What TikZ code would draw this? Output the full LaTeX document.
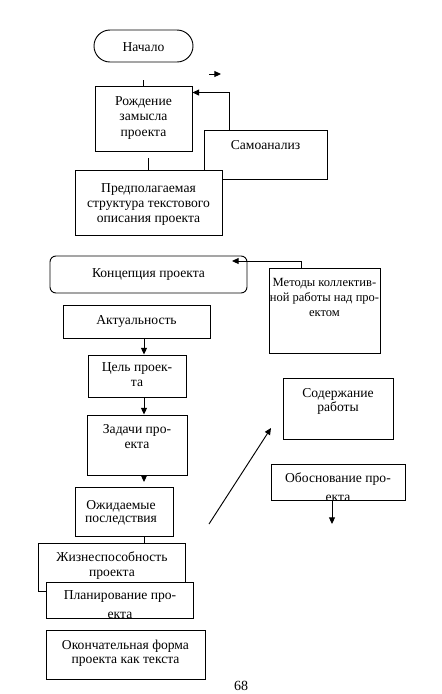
\documentclass[tikz,border=0pt]{standalone}
\usepackage{fontspec}
\setmainfont{Liberation Serif}
\usetikzlibrary{arrows.meta,fit,calc}
\begin{document}
\begin{tikzpicture}[x=0.75pt,y=-0.75pt,
  box/.style={draw, line width=0.7pt, inner sep=0pt, fill=white},
  txt/.style={font=\fontsize{10.2}{11.4}\selectfont, align=center, inner sep=0pt, anchor=north},
  cuttxt/.style={txt, font=\fontsize{10.2}{14.6}\selectfont},
  conn/.style={line width=0.7pt},
  arr/.style={line width=0.7pt, -{Triangle[length=5pt,width=4.5pt]}}]
\useasboundingbox (0,0) rectangle (442,694);

% Start
\node[box, rounded corners=12pt, fit={(94,30) (193,62)}] (start) {};
\node[txt] (startT) at (143.5,42) {Начало};
\coordinate (s1) at (209,74);
\coordinate (s2) at (221,74);
\draw[arr] (s1) -- (s2);

% Рождение
\node[box, fit={(95,86) (192,151)}] (rozh) {};
\node[txt] (rozhT) at (143.5,96.5) {Рождение\\замысла\\проекта};
\coordinate (tick1) at (143.5,80);
\draw[conn] (tick1) -- (rozh.north);

% Самоанализ
\node[box, fit={(204,130) (327,179)}] (samo) {};
\node[txt] (samoT) at (265.5,140) {Самоанализ};
\draw[arr] ($(samo.north west)+(26,0)$) |- ($(rozh.north east)+(0,7)$);

% Предполагаемая
\coordinate (tick2) at (148.5,158);
\node[box, fit={(75,170) (222,235)}] (pred) {};
\draw[conn] (tick2) -- (pred.north);
\node[txt] (predT) at (148.5,183) {Предполагаемая\\структура текстового\\описания проекта};

% Концепция
\node[box, rounded corners=4.5pt, fit={(50,256) (247,293)}] (konc) {};
\node[txt] (koncT) at (148.5,268) {Концепция проекта};

% Методы
\node[box, fit={(269,268) (380,353)}] (met) {};
\node[txt, font=\fontsize{9.4}{11}\selectfont] (metT) at (324.5,278.5) {Методы коллектив-\\ной работы над про-\\ектом};
\coordinate (kTip) at (232,261);
\draw[arr] ($(met.north west)+(33,0)$) |- (kTip);

% Левая колонка
\coordinate (colX) at (144,0);
\node[box, fit={(63,305) (210,338)}] (akt) {};
\node[txt] (aktT) at (136.5,315) {Актуальность};

\node[box, fit={(88,355) (186,397)}] (tsel) {};
\node[txt] (tselT) at (137,362) {Цель проек-\\та};
\draw[arr] (akt.south -| colX) -- (tsel.north -| colX);

\node[box, fit={(87,415) (187,475)}] (zad) {};
\node[txt] (zadT) at (137,424) {Задачи про-\\екта};
\draw[arr] (tsel.south -| colX) -- (zad.north -| colX);
\coordinate (zEnd) at (144,482);
\draw[arr] (zad.south -| colX) -- (zEnd);

\node[box, fit={(75,487) (173,536)}] (ozh) {};
\node[txt, font=\fontsize{10.2}{10.2}\selectfont] (ozhT) at (121,500) {Ожидаемые\\последствия};

\node[box, fit={(38,543) (185,591)}] (zhiz) {};
\node[txt] (zhizT) at (112,551) {Жизнеспособность\\проекта};
\draw[conn] (ozh.south -| colX) -- (zhiz.north -| colX);

\node[box, fit={(46,582) (193,618)}] (plan) {};
\begin{scope}
  \clip (plan.south west) rectangle (plan.north east);
  \node[cuttxt] (planT) at (120,590) {Планирование про-\\екта};
\end{scope}

\node[box, fit={(46,630) (205,679)}] (okon) {};
\node[txt, font=\fontsize{10.2}{10.2}\selectfont] (okonT) at (125.5,640) {Окончательная форма\\проекта как текста};

% Правая часть
\node[box, fit={(283,378) (393,439)}] (sod) {};
\node[txt, font=\fontsize{10.2}{10.6}\selectfont] (sodT) at (338,388) {Содержание\\работы};
\coordinate (d1) at (209,524);
\coordinate (d2) at (271,428);
\draw[arr] (d1) -- (d2);

\node[box, fit={(271,464) (405,500)}] (obos) {};
\begin{scope}
  \clip (obos.south west) rectangle (obos.north east);
  \node[cuttxt] (obosT) at (338,472) {Обоснование про-\\екта};
\end{scope}
\coordinate (obEnd) at (332,524);
\draw[arr] (obos.south -| obEnd) -- (obEnd);

% Номер страницы
\node[font=\fontsize{10.5}{12}\selectfont, inner sep=0pt, anchor=north] (pnum) at (241,681) {68};
\end{tikzpicture}
\end{document}
